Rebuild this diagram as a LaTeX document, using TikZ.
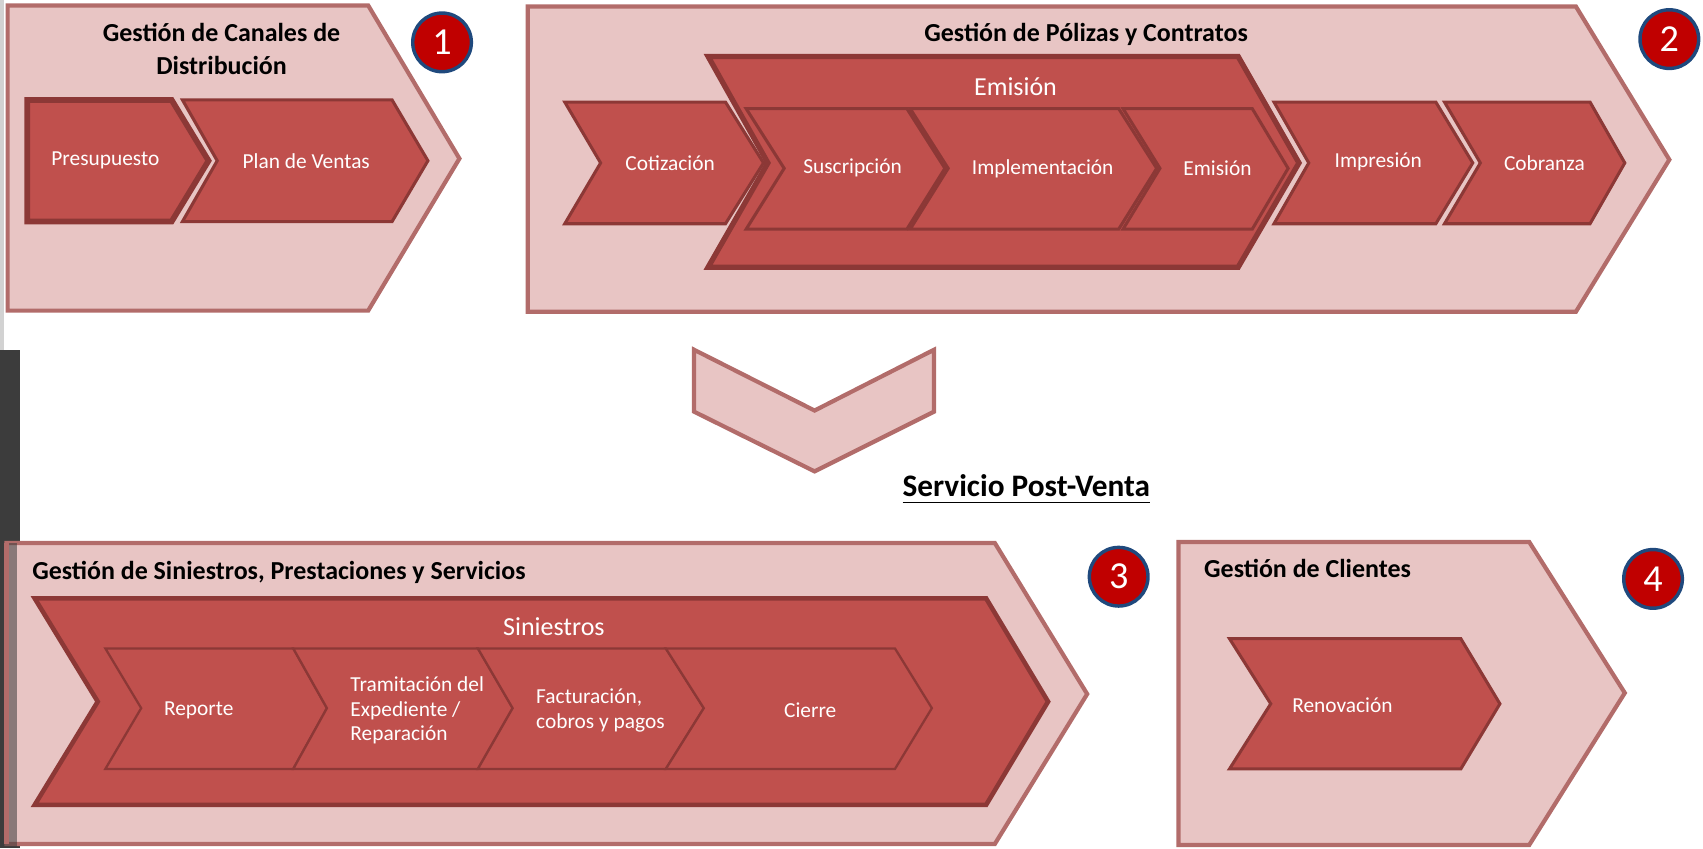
\documentclass[tikz,border=0pt]{standalone}
\usepackage{fontspec}
\setmainfont{Carlito}
\usepackage{tikz}
\definecolor{panelfill}{RGB}{232,197,196}
\definecolor{panelline}{RGB}{178,108,106}
\definecolor{chevfill}{RGB}{192,80,77}
\definecolor{chevline}{RGB}{140,56,54}
\definecolor{numfill}{RGB}{192,0,0}
\definecolor{numline}{RGB}{31,73,125}
\definecolor{barcol}{RGB}{60,60,60}
\tikzset{
  panel/.style={fill=panelfill, draw=panelline, line width=1.1pt},
  chev/.style={fill=chevfill, draw=chevline, line width=0.8pt},
  lbl/.style={text=white, inner sep=0pt, font=\fontsize{5.6}{6.5}\selectfont},
  ttl/.style={inner sep=0pt, font=\bfseries\fontsize{6.8}{8.5}\selectfont},
  num/.style={circle, fill=numfill, draw=numline, line width=0.9pt, minimum size=5.4mm,
    inner sep=0pt, text=white, font=\fontsize{10}{10}\selectfont}
}

\begin{document}
\begin{tikzpicture}[x=0.1mm,y=-0.1mm]
            \useasboundingbox (0,0) rectangle (1568,781);
            % borde de la captura
            \fill[gray!35] (0,0) rectangle (4,322);
            \fill[barcol] (0,322) rectangle (18,781);
            % bloques grandes
            \draw[panel] (7,5) -- (339,5) -- (423,146) -- (339,286) -- (7,286) -- cycle;
            \draw[panel] (486,6) -- (1451,6) -- (1537,147) -- (1451,287) -- (486,287) -- cycle;
            \draw[panel] (639,322) -- (750,378) -- (860,322) -- (860,379) -- (750,434) -- (639,379) -- cycle;
            \draw[panel] (6,500) -- (916,500) -- (1001,639) -- (916,777) -- (6,777) -- cycle;
            \fill[barcol, opacity=0.55] (0,500) rectangle (16,781);
            \draw[panel, fill=none] (6,500) -- (6,777);
            \draw[panel] (1085,499) -- (1408,499) -- (1496,638) -- (1408,778) -- (1085,778) -- cycle;
            % canales
            \draw[chev, line width=1.5pt] (25,92) -- (158,92) -- (192,148) -- (158,204) -- (25,204) -- cycle;
            \draw[chev] (168,92) -- (361,92) -- (394,148) -- (361,204) -- (168,204) -- (200,148) -- cycle;
            % polizas
            \draw[chev, line width=1.4pt] (652,52) -- (1140,52) -- (1196,150) -- (1140,246) -- (652,246) -- (707,150) -- cycle;
            \foreach \a/\b/\c/\d in {687/722/835/870, 838/873/1030/1065, 1034/1068/1153/1186}
                \draw[chev] (\a,100) -- (\c,100) -- (\d,155) -- (\c,211) -- (\a,211) -- (\b,155) -- cycle;
            \foreach \a/\b/\c/\d in {520/553/668/703, 1173/1205/1322/1356, 1330/1363/1464/1496}
                \draw[chev] (\a,94) -- (\c,94) -- (\d,150) -- (\c,206) -- (\a,206) -- (\b,150) -- cycle;
            % siniestros
            \draw[chev, line width=1.2pt] (32,551) -- (908,551) -- (965,646) -- (908,741) -- (32,741) -- (90,646) -- cycle;
            \foreach \a/\b/\c/\d in {97/130/270/301, 270/301/440/472, 440/472/613/648, 613/648/824/858}
                \draw[chev, line width=0.6pt] (\a,597) -- (\c,597) -- (\d,652) -- (\c,708) -- (\a,708) -- (\b,652) -- cycle;
            % clientes
            \draw[chev] (1132,588) -- (1345,588) -- (1381,648) -- (1345,708) -- (1132,708) -- (1170,648) -- cycle;
            % titulos
            \node[ttl, align=center] (canales) at (204,45) {Gestión de Canales de\\Distribución};
            \node[ttl] (polizas) at (1000,32) {Gestión de Pólizas y Contratos};
            \node[ttl, anchor=west] (siniestros) at (29,527) {Gestión de Siniestros, Prestaciones y Servicios};
            \node[ttl, anchor=west] (clientes) at (1108,523) {Gestión de Clientes};
            \node[ttl, font=\bfseries\fontsize{8.2}{9}\selectfont] (postventa) at (945,451) {\underline{Servicio Post-Venta}};
            % etiquetas
            \node[lbl] (presupuesto) at (97,148) {Presupuesto};
            \node[lbl] (planventas) at (282,148) {Plan de Ventas};
            \node[lbl] (cotizacion) at (617,150) {Cotización};
            \node[lbl, font=\fontsize{6.8}{8}\selectfont] (emisiongrp) at (935,80) {Emisión};
            \node[lbl] (suscripcion) at (785,155) {Suscripción};
            \node[lbl] (implementacion) at (960,155) {Implementación};
            \node[lbl] (emision) at (1121,155) {Emisión};
            \node[lbl] (impresion) at (1269,149) {Impresión};
            \node[lbl] (cobranza) at (1422,150) {Cobranza};
            \node[lbl, font=\fontsize{6.8}{8}\selectfont] (siniestrosgrp) at (510,577) {Siniestros};
            \node[lbl] (reporte) at (183,654) {Reporte};
            \node[lbl, align=left, anchor=west] (tramitacion) at (322,654) {Tramitación del\\Expediente /\\Reparación};
            \node[lbl, align=left, anchor=west] (facturacion) at (493,654) {Facturación,\\cobros y pagos};
            \node[lbl] (cierre) at (746,654) {Cierre};
            \node[lbl] (renovacion) at (1236,649) {Renovación};
            % numeros
            \node[num] (n1) at (407,39) {1};
            \node[num] (n2) at (1537,36) {2};
            \node[num] (n3) at (1030,531) {3};
            \node[num] (n4) at (1522,533) {4};
        \end{tikzpicture}
\end{document}
